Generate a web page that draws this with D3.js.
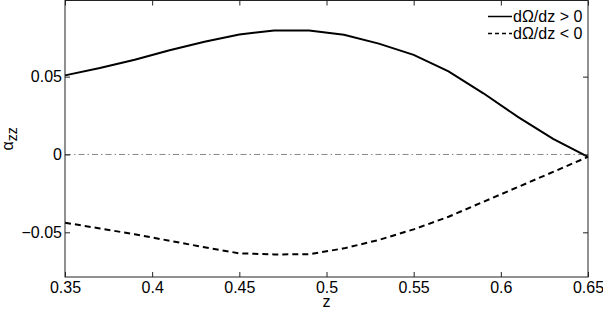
<!DOCTYPE html>
<html>
<head>
<meta charset="utf-8">
<script src="https://cdn.jsdelivr.net/npm/d3@7"></script>
<style>
  body { margin: 0; background: #fff; }
  svg { display: block; font-family: "Liberation Sans", Arial, sans-serif; }
</style>
</head>
<body>
<svg id="chart" width="603" height="310"></svg>
<script>
// redshift grid
const z = [0.35, 0.37, 0.39, 0.41, 0.43, 0.45, 0.47, 0.49, 0.51, 0.53, 0.55, 0.57, 0.59, 0.61, 0.63, 0.65];
// dOmega/dz > 0 branch
const alphaPos = [0.0508, 0.0555, 0.0609, 0.0669, 0.0724, 0.0771, 0.0797, 0.0797, 0.0769, 0.0712, 0.0640, 0.0534, 0.0393, 0.0240, 0.0100, -0.0015];
// dOmega/dz < 0 branch
const alphaNeg = [-0.0438, -0.0475, -0.0513, -0.0554, -0.0596, -0.0635, -0.0642, -0.0641, -0.0603, -0.0549, -0.0481, -0.0400, -0.0304, -0.0208, -0.0112, -0.0015];

const xTicks = [0.35, 0.4, 0.45, 0.5, 0.55, 0.6, 0.65];
const yTicks = [-0.05, 0, 0.05];
const legendLabels = ["d\u03A9/dz > 0", "d\u03A9/dz < 0"];

const margin = { top: 0.5, right: 15, bottom: 33, left: 65 };
const width = 603, height = 310;
const innerW = width - margin.left - margin.right;
const innerH = height - margin.top - margin.bottom;
const fontSize = 16;

const svg = d3.select("#chart");
const g = svg.append("g").attr("transform", `translate(${margin.left},${margin.top})`);

const x = d3.scaleLinear().domain([0.35, 0.65]).range([0, innerW]);
const y = d3.scaleLinear().domain([-0.0787, 0.0989]).range([innerH, 0]);

const fmt = d => d === 0 ? "0" : String(d).replace("-", "\u2212");

// zero reference line
g.append("line")
  .attr("x1", 0).attr("x2", innerW)
  .attr("y1", y(0)).attr("y2", y(0))
  .attr("stroke", "#555")
  .attr("stroke-width", 0.7)
  .attr("stroke-dasharray", "6,3,1.5,3");

const line = d3.line().x(d => x(d[0])).y(d => y(d[1]));

g.append("path")
  .datum(d3.zip(z, alphaPos))
  .attr("d", line)
  .attr("fill", "none")
  .attr("stroke", "#000")
  .attr("stroke-width", 2);

g.append("path")
  .datum(d3.zip(z, alphaNeg))
  .attr("d", line)
  .attr("fill", "none")
  .attr("stroke", "#000")
  .attr("stroke-width", 2)
  .attr("stroke-dasharray", "6,4");

// axes, ticks pointing inward on all four sides
const styleAxis = sel => {
  sel.select(".domain").remove();
  sel.selectAll(".tick line").attr("stroke", "#222");
  sel.selectAll(".tick text")
    .attr("fill", "#000")
    .attr("font-size", fontSize)
    .attr("font-family", "Liberation Sans, Arial, sans-serif");
};

g.append("g")
  .attr("transform", `translate(0,${innerH})`)
  .call(d3.axisBottom(x).tickValues(xTicks).tickSize(-5).tickPadding(5).tickFormat(fmt))
  .call(styleAxis);

g.append("g")
  .call(d3.axisTop(x).tickValues(xTicks).tickSize(-5).tickFormat(""))
  .call(styleAxis);

g.append("g")
  .call(d3.axisLeft(y).tickValues(yTicks).tickSize(-5).tickPadding(3).tickFormat(fmt))
  .call(styleAxis);

g.append("g")
  .attr("transform", `translate(${innerW},0)`)
  .call(d3.axisRight(y).tickValues(yTicks).tickSize(-5).tickFormat(""))
  .call(styleAxis);

g.append("rect")
  .attr("width", innerW).attr("height", innerH)
  .attr("fill", "none")
  .attr("stroke", "#222")
  .attr("stroke-width", 1);

// legend
const legend = g.append("g").attr("transform", `translate(${innerW - 100},16)`);
legendLabels.forEach((lab, i) => {
  const row = legend.append("g").attr("transform", `translate(0,${i * 17})`);
  row.append("line")
    .attr("x1", 0).attr("x2", 24)
    .attr("stroke", "#000")
    .attr("stroke-width", 1.5)
    .attr("stroke-dasharray", i === 0 ? null : "4,3");
  row.append("text")
    .attr("x", 25).attr("dy", "0.35em")
    .attr("font-size", 16)
    .text(lab);
});

// axis labels
svg.append("text")
  .attr("x", margin.left + innerW / 2)
  .attr("y", 307)
  .attr("text-anchor", "middle")
  .attr("font-size", fontSize)
  .text("z");

const yl = svg.append("text")
  .attr("transform", `translate(13,${margin.top + innerH / 2}) rotate(-90)`)
  .attr("text-anchor", "middle")
  .attr("font-size", fontSize);
yl.append("tspan").text("\u03B1");
yl.append("tspan").attr("dy", 4).attr("font-size", 14).text("zz");
</script>
</body>
</html>
